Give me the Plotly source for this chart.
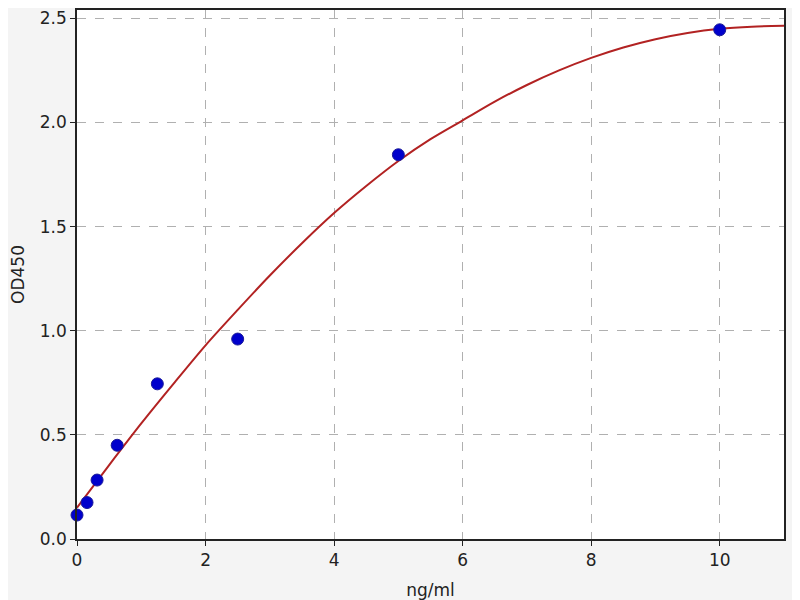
import plotly.graph_objects as go

# standard points
conc = [0, 0.156, 0.3125, 0.625, 1.25, 2.5, 5, 10]
od450 = [0.115, 0.175, 0.283, 0.45, 0.745, 0.96, 1.845, 2.445]

# fitted curve
fit_x = [0, 0.5, 1, 1.5, 2, 2.5, 3, 3.5, 4, 4.5, 5, 5.5, 6, 6.5, 7, 7.5, 8, 8.5, 9, 9.5, 10, 10.5, 11]
fit_y = [0.15, 0.355, 0.555, 0.745, 0.93, 1.1, 1.265, 1.42, 1.565, 1.695, 1.815, 1.92, 2.01, 2.1, 2.18, 2.25, 2.31, 2.36, 2.4, 2.43, 2.45, 2.46, 2.464]

FONT = "DejaVu Sans"

fig = go.Figure()

fig.add_trace(go.Scatter(x=fit_x, y=fit_y, mode="lines", line=dict(color="#b22222", width=2, shape="spline", smoothing=0.8),
                         showlegend=False, hoverinfo="skip"))
fig.add_trace(go.Scatter(x=conc, y=od450, mode="markers",
                         marker=dict(color="#0000cc", size=12, line=dict(color="#1a1a99", width=1)),
                         showlegend=False, cliponaxis=False))

axis_common = dict(showline=True, linecolor="#222", linewidth=1.5, mirror=True,
                   showgrid=True, gridcolor="#b0b0b0", griddash="dash", gridwidth=1,
                   ticks="outside", ticklen=5, tickcolor="#222", zeroline=False, automargin=False,
                   tickfont=dict(family=FONT, size=17, color="#222"))

fig.update_xaxes(range=[0, 11], dtick=2,
                 title=dict(text="ng/ml", font=dict(family=FONT, size=17, color="#222"), standoff=15),
                 **axis_common)
fig.update_yaxes(range=[0, 2.54], tickvals=[0, 0.5, 1, 1.5, 2, 2.5], ticktext=["0.0", "0.5", "1.0", "1.5", "2.0", "2.5"],
                 title=dict(text="OD450", font=dict(family=FONT, size=17, color="#222"), standoff=17),
                 **axis_common)

fig.update_layout(width=784, height=592, margin=dict(l=69, r=8, t=2, b=61),
                  paper_bgcolor="#f4f4f4", plot_bgcolor="white")

fig.write_html("out.html")
